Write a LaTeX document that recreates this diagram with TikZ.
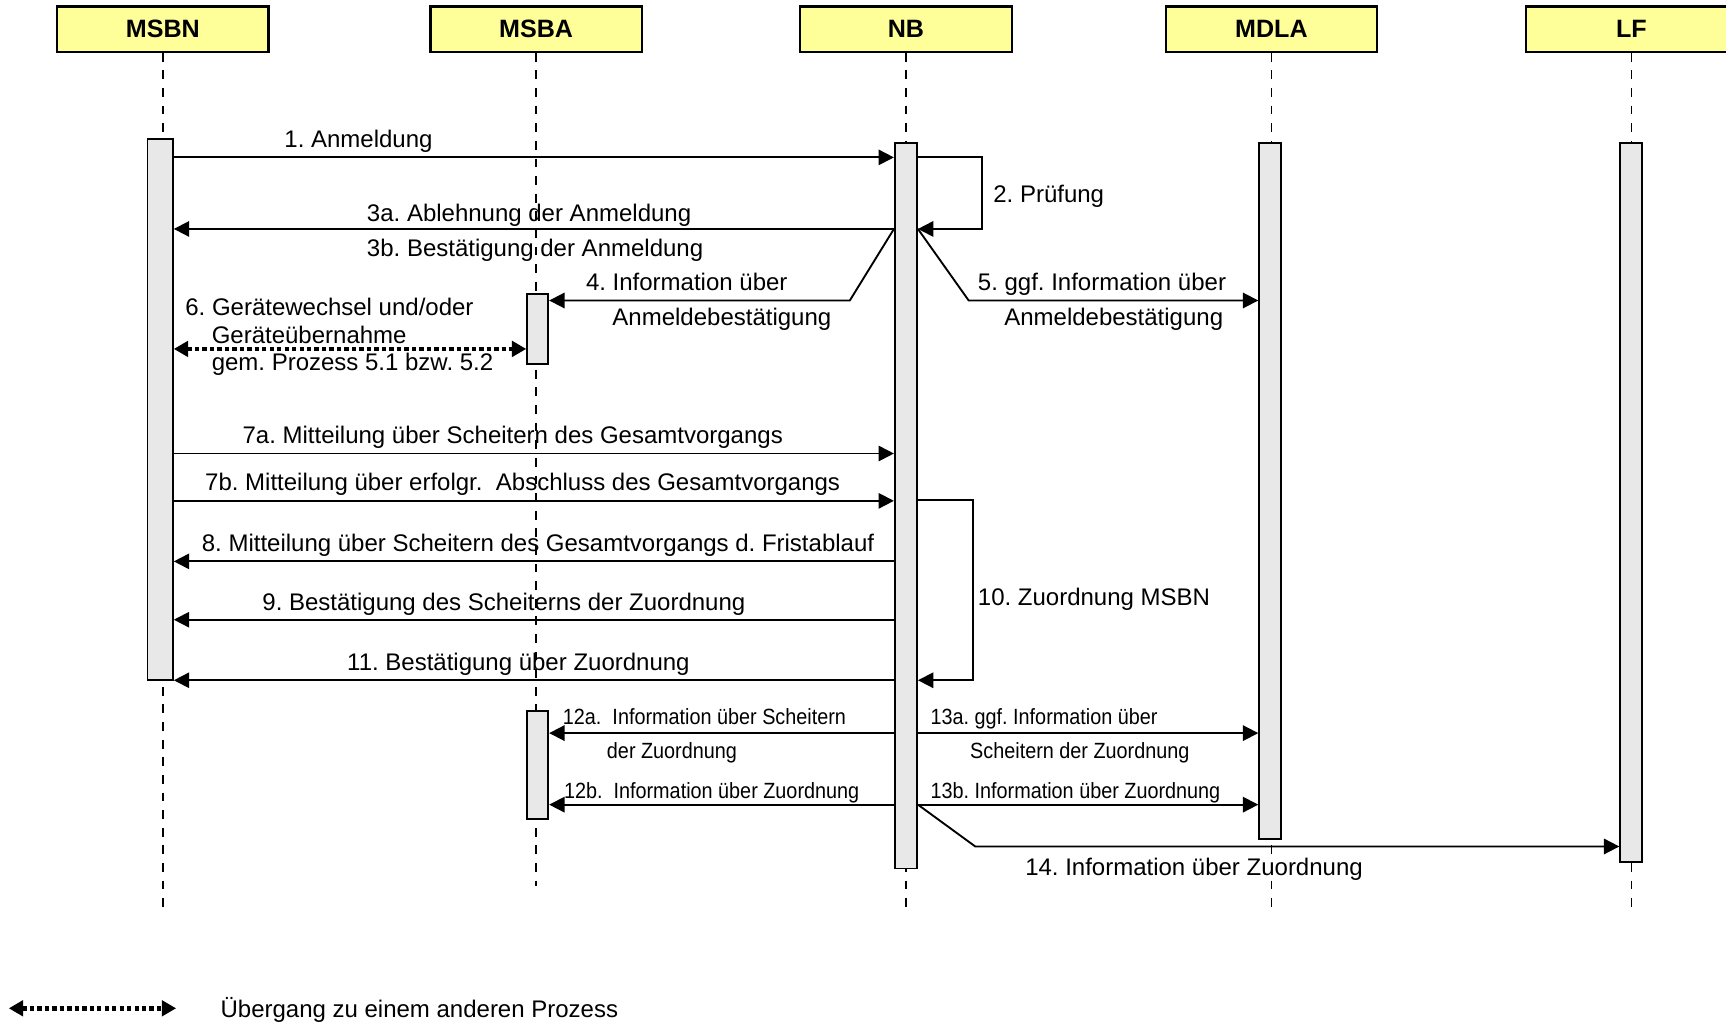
\documentclass[tikz,border=0pt]{standalone}
\usepackage{fontspec}
\setmainfont{Liberation Sans}
\newfontfamily\narrowsf[FakeStretch=0.9]{Liberation Sans}
\usetikzlibrary{arrows.meta, fit}
\frenchspacing

\definecolor{headyellow}{HTML}{FFFF99}
\definecolor{bargray}{HTML}{E8E8E8}

\tikzset{
  head/.style={draw, line width=1pt, fill=headyellow, minimum width=96pt, minimum height=20.5pt, inner sep=0, font=\fontsize{11.4}{13}\selectfont\bfseries},
  bar/.style={draw, line width=0.9pt, fill=bargray, inner sep=0},
  lifeline/.style={line width=0.6pt, dash pattern=on 4pt off 4pt},
  msg/.style={line width=0.85pt, ->},
  trans/.style={line width=2pt, dash pattern=on 2pt off 1.4pt, {Triangle[length=6.5pt,width=7pt]}-{Triangle[length=6.5pt,width=7pt]}},
  lbl/.style={anchor=base west, inner sep=0},
  nlbl/.style={anchor=base west, inner sep=0, font=\narrowsf},
}

\begin{document}
\begin{tikzpicture}[>={Triangle[length=7pt,width=7pt]}, x=0.5pt, y=-0.5pt, font=\fontsize{10.9}{13}\selectfont]
\useasboundingbox (0,0) rectangle (1568,929);
\clip (0,0) rectangle (1568,929);

% heads
\node[head] (msbn) at (148,26.5) {MSBN};
\node[head] (msba) at (487,26.5) {MSBA};
\node[head] (nb) at (823,26.5) {NB};
\node[head] (mdla) at (1155,26.5) {MDLA};
\node[head] (lf) at (1482,26.5) {LF};

% lifelines
\draw[lifeline] (msbn.south) -- (msbn.south |- 0,825);
\draw[lifeline] (msba.south) -- (msba.south |- 0,805);
\draw[lifeline] (nb.south) -- (nb.south |- 0,825);
\draw[lifeline] (mdla.south) -- (mdla.south |- 0,825);
\draw[lifeline] (lf.south) -- (lf.south |- 0,825);

% activation bars
\node[bar, fit={(134,126) (157,618)}] (msbnbar) {};
\node[bar, fit={(479,267) (498,331)}] (msbabar1) {};
\node[bar, fit={(479,646) (498,744)}] (msbabar2) {};
\node[bar, fit={(813,130) (833,789)}] (nbbar) {};
\node[bar, fit={(1144,130) (1164,762)}] (mdlabar) {};
\node[bar, fit={(1472,130) (1492,783)}] (lfbar) {};

\draw[msg] (msbnbar.east |- 0,143) -- (nbbar.west |- 0,143); %1
\node[lbl] (l1) at (258,134) {1. Anmeldung};

\draw[msg] (nbbar.east |- 0,143) -- (892,143) -- (892,208) -- (nbbar.east |- 0,208); %2
\node[lbl] (l2) at (902,184) {2. Prüfung};

\draw[msg] (nbbar.west |- 0,208) -- (msbnbar.east |- 0,208); %3a/3b
\node[lbl] (l3a) at (333,201) {3a. Ablehnung der Anmeldung};
\node[lbl] (l3b) at (333,233) {3b. Bestätigung der Anmeldung};

\draw[msg] (nbbar.west |- 0,208) -- (772,273) -- (msbabar1.east |- 0,273); %4
\node[lbl] (l4) at (532,264) {4. Information über};
\node[lbl] (l4b) at (556,296) {Anmeldebestätigung};

\draw[msg] (nbbar.east |- 0,208) -- (880,273) -- (mdlabar.west |- 0,273); %5
\node[lbl] (l5) at (888,264) {5. ggf. Information über};
\node[lbl] (l5b) at (912,296) {Anmeldebestätigung};

\draw[trans] (msbnbar.east |- 0,317) -- (msbabar1.west |- 0,317); %6
\node[lbl] (l6) at (168,287) {6. Gerätewechsel und/oder};
\node[lbl] (l6b) at (192,312) {Geräteübernahme};
\node[lbl] (l6c) at (192,337) {gem. Prozess 5.1 bzw. 5.2};

\draw[msg] (msbnbar.east |- 0,412) -- (nbbar.west |- 0,412); %7a
\node[lbl] (l7a) at (220,403) {7a. Mitteilung über Scheitern des Gesamtvorgangs};

\draw[msg] (msbnbar.east |- 0,455) -- (nbbar.west |- 0,455); %7b
\node[lbl] (l7b) at (186,446) {7b. Mitteilung über erfolgr.\ \ Abschluss des Gesamtvorgangs};

\draw[msg] (nbbar.west |- 0,510) -- (msbnbar.east |- 0,510); %8
\node[lbl] (l8) at (183,501) {8. Mitteilung über Scheitern des Gesamtvorgangs d. Fristablauf};

\draw[msg] (nbbar.west |- 0,563) -- (msbnbar.east |- 0,563); %9
\node[lbl] (l9) at (238,555) {9. Bestätigung des Scheiterns der Zuordnung};

\draw[msg] (nbbar.east |- 0,454) -- (884,454) -- (884,618) -- (nbbar.east |- 0,618); %10
\node[lbl] (l10) at (888,550) {10. Zuordnung MSBN};

\draw[msg] (nbbar.west |- 0,618) -- (msbnbar.east |- 0,618); %11
\node[lbl] (l11) at (315,609) {11. Bestätigung über Zuordnung};

\draw[msg] (nbbar.west |- 0,666) -- (msbabar2.east |- 0,666); %12a
\node[nlbl] (l12a) at (511,658) {12a.\ \ Information über Scheitern};
\node[nlbl] (l12ab) at (551,689) {der Zuordnung};

\draw[msg] (nbbar.west |- 0,731) -- (msbabar2.east |- 0,731); %12b
\node[nlbl] (l12b) at (512,725) {12b.\ \ Information über Zuordnung};

\draw[msg] (nbbar.east |- 0,666) -- (mdlabar.west |- 0,666); %13a
\node[nlbl] (l13a) at (845,658) {13a. ggf. Information über};
\node[nlbl] (l13ab) at (881,689) {Scheitern der Zuordnung};

\draw[msg] (nbbar.east |- 0,731) -- (mdlabar.west |- 0,731); %13b
\node[nlbl] (l13b) at (845,725) {13b. Information über Zuordnung};

\draw[msg] (nbbar.east |- 0,731) -- (886,769) -- (lfbar.west |- 0,769); %14
\node[lbl] (l14) at (931,795) {14. Information über Zuordnung};

% legend
\coordinate (legl) at (8,916);
\coordinate (legr) at (160,916);
\draw[trans] (legl) -- (legr);
\node[lbl] (leg) at (200,924) {Übergang zu einem anderen Prozess};

\end{tikzpicture}
\end{document}
